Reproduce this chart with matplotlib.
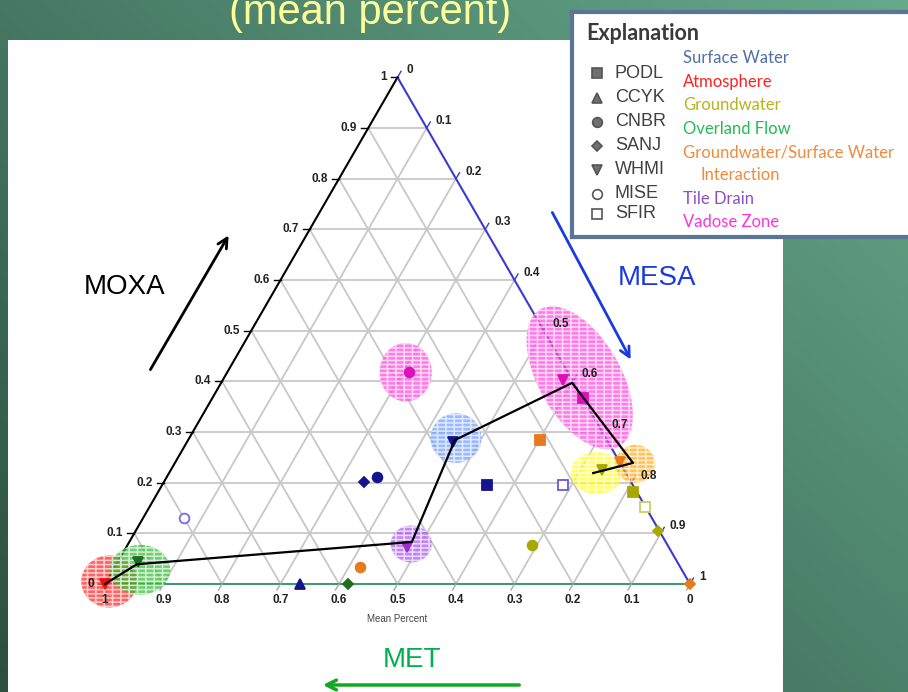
import numpy as np
import matplotlib
matplotlib.use('Agg')
import matplotlib.pyplot as plt
from matplotlib.patches import Ellipse
from matplotlib.colors import to_rgb

# Source endmembers and their colours (label, marker, halo)
SOURCES = ['Surface Water', 'Atmosphere', 'Groundwater', 'Overland Flow',
           'Groundwater/Surface Water Interaction', 'Tile Drain', 'Vadose Zone']
LABEL_COLORS = ['#4f6fa8', '#ff2020', '#b4b41e', '#22bb55', '#f08a3c',
                '#8a4fc0', '#ff33dd']
MARKER_COLORS = ['#14148c', '#ee1111', '#a8a800', '#1f6e1f', '#e87a1a',
                 '#9b30d0', '#dd11bb']
HALO_COLORS = ['#6f9cff', '#ff2020', '#ffff22', '#33bb33', '#ffaa11',
               '#aa55ee', '#ff44dd']

STATIONS = ['PODL', 'CCYK', 'CNBR', 'SANJ', 'WHMI', 'MISE', 'SFIR']
STATION_MARKERS = ['s', '^', 'o', 'D', 'v', 'o', 's']
STATION_FILLED = [True, True, True, True, True, False, False]

# Mean fractions for each station/source sample (MET = 1 - MESA - MOXA)
pt_source = [0, 0, 0, 0, 0,
             1,
             2, 2, 2, 2, 2,
             3, 3,
             4, 4, 4, 4,
             5, 5, 5,
             6, 6, 6]
pt_station = ['WHMI', 'PODL', 'CNBR', 'SANJ', 'CCYK',
              'WHMI',
              'WHMI', 'PODL', 'SFIR', 'SANJ', 'CNBR',
              'WHMI', 'SANJ',
              'WHMI', 'PODL', 'CNBR', 'SANJ',
              'WHMI', 'MISE', 'SFIR',
              'WHMI', 'PODL', 'CNBR']
pt_mesa = [0.455, 0.556, 0.359, 0.342, 0.333,
           0.0,
           0.737, 0.812, 0.847, 0.893, 0.691,
           0.035, 0.415,
           0.760, 0.602, 0.419, 1.0,
           0.480, 0.070, 0.685,
           0.581, 0.634, 0.311]
pt_moxa = [0.280, 0.195, 0.211, 0.201, 0.0,
           0.0,
           0.225, 0.182, 0.152, 0.105, 0.077,
           0.043, 0.0,
           0.241, 0.284, 0.034, 0.0,
           0.073, 0.130, 0.195,
           0.403, 0.367, 0.418]

# Source envelopes: centre (MESA, MOXA)
halo_source = [1, 3, 6, 0, 5, 6, 2, 4]
halo_mesa = [0.005, 0.046, 0.305, 0.456, 0.484, 0.608, 0.731, 0.788]
halo_moxa = [0.005, 0.028, 0.418, 0.288, 0.079, 0.407, 0.219, 0.237]
halo_size = [(0.096, 0.089, 0), (0.103, 0.085, 0), (0.089, 0.100, 0),
             (0.087, 0.085, 0), (0.070, 0.063, 0), (0.27, 0.14, -60),
             (0.089, 0.072, 0), (0.068, 0.065, 0)]

# WHMI flow path between sources
path_mesa = [0.0, 0.035, 0.483, 0.456, 0.600, 0.783, 0.725]
path_moxa = [0.0, 0.039, 0.083, 0.284, 0.397, 0.239, 0.219]

TICKS = [round(0.1 * i, 1) for i in range(11)]

W_PX, H_PX = 908, 692
SIDE = 585.0            # triangle side length in pixels
X0, Y0 = 105.0, 584.0   # pixel position of the MET apex
R3 = np.sqrt(3) / 2


def tern(mesa, moxa):
    mesa = np.asarray(mesa, float)
    moxa = np.asarray(moxa, float)
    return mesa + moxa / 2, moxa * R3


def tick_text(v):
    return '0' if v == 0 else ('1' if v == 1 else f'{v:.1f}')


fig = plt.figure(figsize=(W_PX / 100, H_PX / 100), dpi=100)

# slide background
bg = fig.add_axes([0, 0, 1, 1])
xx, yy = np.meshgrid(np.linspace(0, 1, 300), np.linspace(0, 1, 230))
t = np.clip(0.55 * xx + 0.45 * (1 - yy), 0, 1)
c0, c1 = np.array(to_rgb('#2b4f41')), np.array(to_rgb('#66a98b'))
bg.imshow(c0 + (c1 - c0) * t[..., None], extent=(0, W_PX, H_PX, 0), aspect='auto')
bg.set_xlim(0, W_PX)
bg.set_ylim(H_PX, 0)
bg.axis('off')

# ternary panel
px_l, px_r, px_t = 8, 783, 40
ax = fig.add_axes([px_l / W_PX, 0, (px_r - px_l) / W_PX, (H_PX - px_t) / H_PX])
ax.set_xlim((px_l - X0) / SIDE, (px_r - X0) / SIDE)
ax.set_ylim((Y0 - H_PX) / SIDE, (Y0 - px_t) / SIDE)
ax.set_facecolor('white')
ax.set_xticks([])
ax.set_yticks([])
for s in ax.spines.values():
    s.set_visible(False)

grid_kw = dict(color='#c8c8c8', lw=1.3, zorder=1)
for v in TICKS[1:-1]:
    ax.plot(*tern([0, 1 - v], [v, v]), **grid_kw)
    ax.plot(*tern([v, v], [0, 1 - v]), **grid_kw)
    ax.plot(*tern([1 - v, 0], [0, 1 - v]), **grid_kw)

ax.plot(*tern([0, 0], [0, 1]), color='black', lw=1.5, zorder=2)
ax.plot(*tern([0, 1], [1, 0]), color='#3a3ad0', lw=1.5, zorder=2)
ax.plot(*tern([0, 1], [0, 0]), color='#3f9a70', lw=1.5, zorder=2)

u = 1 / SIDE
lab_kw = dict(fontsize=8.5, fontweight='bold', color='#222222',
              family='Liberation Sans', zorder=6)
for v in TICKS:
    # MOXA (left edge)
    x, y = tern(0, v)
    ax.plot([x, x - 7 * u], [y, y], color='black', lw=1, zorder=2)
    ax.text(x - 11 * u, y, tick_text(v), ha='right', va='center', **lab_kw)
    # MESA (right edge)
    x, y = tern(v, 1 - v)
    ax.plot([x, x + 3.5 * u], [y, y + 6 * u], color='#3a3ad0', lw=1, zorder=2)
    ax.text(x + 9 * u, y + 7 * u, tick_text(v), ha='left', va='center', **lab_kw)
    # MET (bottom edge)
    x, y = tern(1 - v, 0)
    ax.plot([x, x - 3.5 * u], [y, y - 6 * u], color='#aaaaaa', lw=1, zorder=2)
    ax.text(x, y - 16 * u, tick_text(v), ha='center', va='center', **lab_kw)

ax.text(0.5, -35 * u, 'Mean Percent', ha='center', va='center', fontsize=7,
        color='#444444', family='Liberation Sans')

plt.rcParams['hatch.linewidth'] = 1.1
for src, m, o, (w, h, ang) in zip(halo_source, halo_mesa, halo_moxa, halo_size):
    cx, cy = tern(m, o)
    ax.add_patch(Ellipse((cx, cy), w, h, angle=ang, facecolor=HALO_COLORS[src],
                         alpha=0.7, edgecolor='white', hatch='----||', lw=0,
                         zorder=3))

ax.plot(*tern(path_mesa, path_moxa), color='black', lw=1.6, zorder=5)

for src, st, m, o in zip(pt_source, pt_station, pt_mesa, pt_moxa):
    k = STATIONS.index(st)
    col = MARKER_COLORS[src]
    if st == 'SFIR' and src == 2:
        col = '#c8d060'
    if st == 'MISE':
        col = '#7b68ee'
    if st == 'SFIR' and src == 5:
        col = '#6a5acd'
    size = 5 if STATION_MARKERS[k] == 'D' else 7
    ax.plot(*tern(m, o), marker=STATION_MARKERS[k], ms=size, ls='none',
            mfc=col if STATION_FILLED[k] else 'white', mec=col, mew=1.3,
            zorder=4)

# annotations in pixel space
ov = fig.add_axes([0, 0, 1, 1])
ov.set_xlim(0, W_PX)
ov.set_ylim(H_PX, 0)
ov.axis('off')
ov.patch.set_alpha(0)

ov.text(370, 24, '(mean percent)', fontsize=30, color='#ffff99',
        family='Liberation Sans', ha='center', va='baseline')

arrow = '->,head_length=0.7,head_width=0.35'
ov.annotate('', xy=(230, 233), xytext=(149, 372),
            arrowprops=dict(arrowstyle=arrow, color='black', lw=2))
ov.text(125, 287, 'MOXA', fontsize=20, color='black', ha='center', va='center',
        family='Liberation Sans')
ov.annotate('', xy=(632, 362), xytext=(551, 210),
            arrowprops=dict(arrowstyle=arrow, color='#1a3adf', lw=2))
ov.text(657, 278, 'MESA', fontsize=20, color='#1a3adf', ha='center',
        va='center', family='Liberation Sans')
ov.annotate('', xy=(320, 685), xytext=(522, 685),
            arrowprops=dict(arrowstyle=arrow, color='#11a822', lw=2.5))
ov.text(412, 660, 'MET', fontsize=20, color='#00b050', ha='center',
        va='center', family='Liberation Sans')

# explanation box
leg = fig.add_axes([572 / W_PX, (H_PX - 237) / H_PX, 345 / W_PX, 225 / H_PX])
leg.set_xlim(572, 917)
leg.set_ylim(237, 12)
leg.set_xticks([])
leg.set_yticks([])
leg.set_facecolor('white')
for s in leg.spines.values():
    s.set_color('#5b7597')
    s.set_linewidth(3)

leg.text(586, 34, 'Explanation', fontsize=15.5, family='Lato',
         fontweight='bold', color='#3a3a3a', va='center')
station_y = [73, 98, 122, 146, 170, 194, 214]
for st, mk, filled, y in zip(STATIONS, STATION_MARKERS, STATION_FILLED, station_y):
    leg.plot(597, y, marker=mk, ms=5 if mk == 'D' else 7, ls='none',
             mfc='#707070' if filled else 'white', mec='#555555', mew=1.2)
    leg.text(615, y, st, fontsize=13, family='Liberation Sans',
             color='#404040', va='center')

source_y = [58, 82, 105, 129, 152, 199, 222]
for name, col, y in zip(SOURCES, LABEL_COLORS, source_y):
    if name.endswith('Interaction'):
        leg.text(683, y, name[:-len(' Interaction')], fontsize=12,
                 family='Lato', color=col, va='center')
        leg.text(700, y + 23, 'Interaction', fontsize=12, family='Lato',
                 color=col, va='center')
    else:
        leg.text(683, y, name, fontsize=12, family='Lato', color=col,
                 va='center')

fig.savefig('out.png', dpi=100)
